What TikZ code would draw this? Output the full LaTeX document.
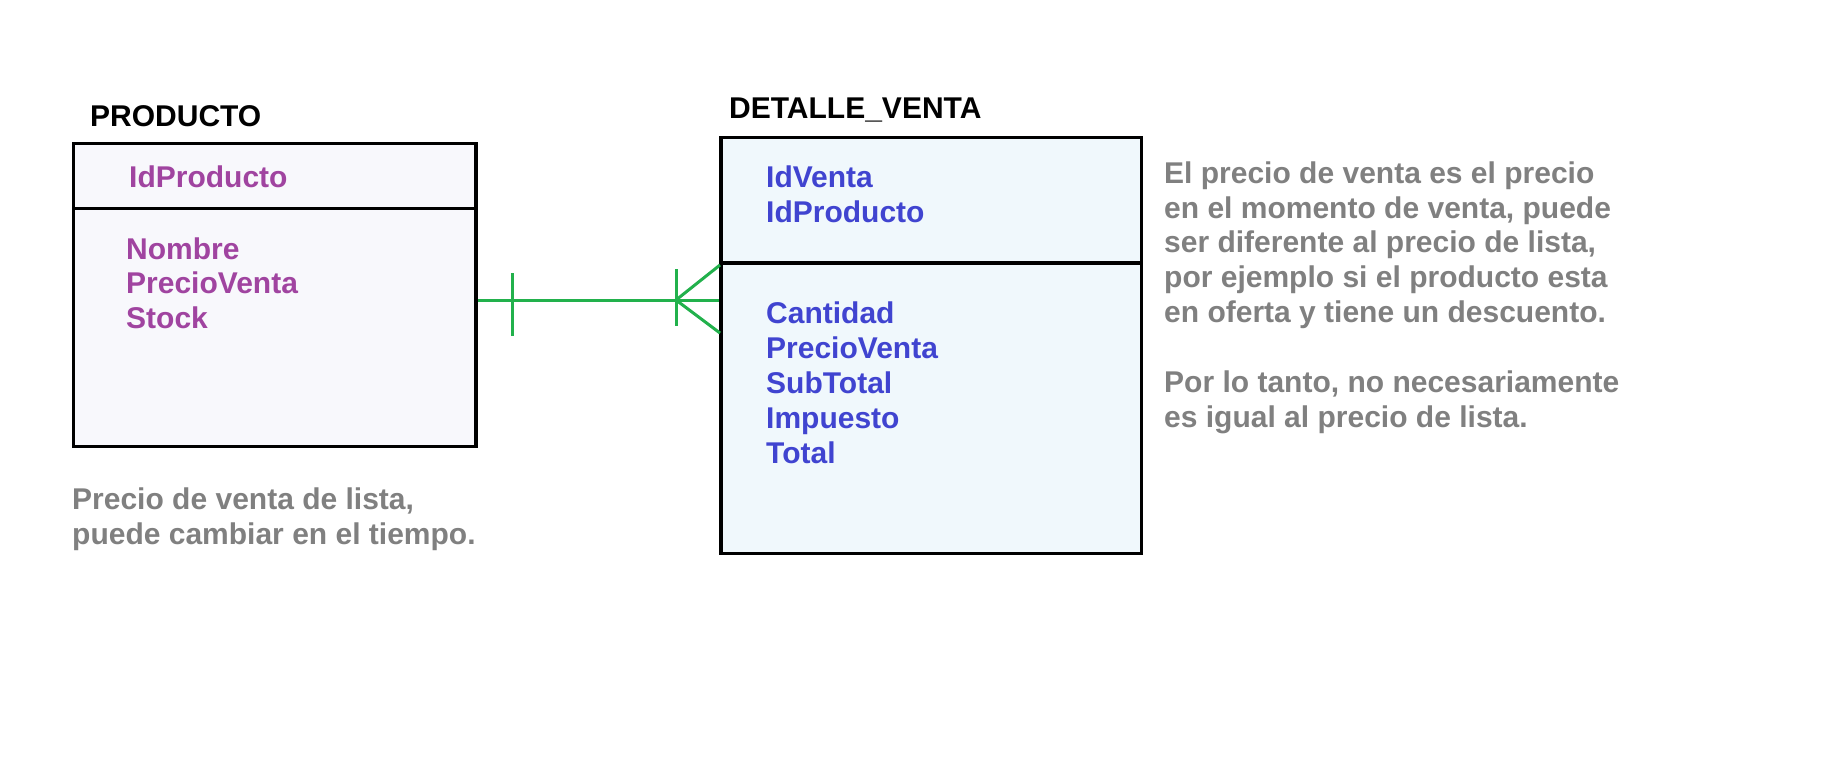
\documentclass[tikz,border=0pt]{standalone}
\usepackage{fontspec}
\setmainfont{Liberation Sans}
\definecolor{attrpurple}{RGB}{160,68,160}
\definecolor{attrblue}{RGB}{64,68,208}
\definecolor{notegray}{RGB}{128,128,128}
\definecolor{relgreen}{RGB}{34,177,76}
\definecolor{prodfill}{RGB}{248,248,252}
\definecolor{detfill}{RGB}{240,248,252}
\begin{document}
\begin{tikzpicture}[x=1pt,y=-1pt,
  txt/.style={font=\fontsize{30}{34.8}\selectfont\bfseries, inner sep=0pt, anchor=base west},
  title/.style={txt, text=black},
  pattr/.style={txt, text=attrpurple},
  battr/.style={txt, text=attrblue},
  note/.style={txt, text=notegray, align=left},
  entbox/.style={draw=black, line width=3.2pt, inner sep=0pt},
  rel/.style={draw=relgreen, line width=3pt}]
\useasboundingbox (0,0) rectangle (1823,756);
% PRODUCTO
\node[entbox, fill=prodfill, minimum width=402.5pt, minimum height=303pt] (prod) at (274.75,295) {};
\coordinate (pdl) at (73.5,208.5);
\coordinate (pdr) at (476,208.5);
\draw[line width=3.2pt] (pdl) -- (pdr);
\node[title] (ptitle) at (90,126) {PRODUCTO};
\node[pattr] (pk) at (129,187) {IdProducto};
\node[pattr] (p1) at (126,259) {Nombre};
\node[pattr] (p2) at (126,293.5) {PrecioVenta};
\node[pattr] (p3) at (126,328) {Stock};
% DETALLE_VENTA
\node[entbox, fill=detfill, minimum width=420.5pt, minimum height=416pt] (det) at (931.25,345.5) {};
\coordinate (ddl) at (721,263);
\coordinate (ddr) at (1141.5,263);
\draw[line width=3.2pt] (ddl) -- (ddr);
\node[title] (dtitle) at (729,118) {DETALLE\_VENTA};
\node[battr] (dk1) at (766,187) {IdVenta};
\node[battr] (dk2) at (766,222.5) {IdProducto};
\node[battr] (d1) at (766,323) {Cantidad};
\node[battr] (d2) at (766,358) {PrecioVenta};
\node[battr] (d3) at (766,393) {SubTotal};
\node[battr] (d4) at (766,428) {Impuesto};
\node[battr] (d5) at (766,463) {Total};
% relationship
\coordinate (ry) at (0,300);
\coordinate (foot) at (676,300);
\coordinate (footu) at (720,265);
\coordinate (footd) at (720,333);
\coordinate (b1t) at (512,273);
\coordinate (b1b) at (512,336);
\coordinate (b2t) at (676,269);
\coordinate (b2b) at (676,326);
\draw[rel] (prod.east |- ry) -- (det.west |- ry);
\draw[rel] (b1t) -- (b1b);
\draw[rel] (b2t) -- (b2b);
\draw[rel] (footu) -- (foot) -- (footd);
% notes (base anchor = baseline of the last line)
\node[note] (n1) at (1164,322.5) {El precio de venta es el precio\\en el momento de venta, puede\\ser diferente al precio de lista,\\por ejemplo si el producto esta\\en oferta y tiene un descuento.};
\node[note] (n2) at (1164,427) {Por lo tanto, no necesariamente\\es igual al precio de lista.};
\node[note] (n3) at (72,544) {Precio de venta de lista,\\puede cambiar en el tiempo.};
\end{tikzpicture}
\end{document}
